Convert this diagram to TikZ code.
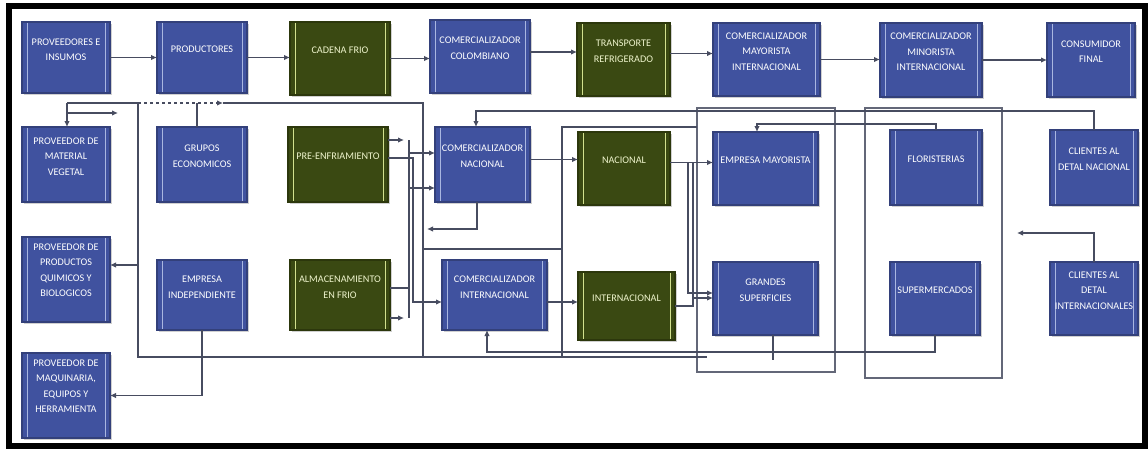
\documentclass[tikz,border=0pt]{standalone}
\usepackage{fontspec}
\setmainfont{Carlito}
\usetikzlibrary{arrows.meta,calc,shadows}
\definecolor{bfill}{HTML}{40529F}
\definecolor{bedge}{HTML}{33407A}
\definecolor{bline}{HTML}{A9B6E0}
\definecolor{gfill}{HTML}{3A4912}
\definecolor{gedge}{HTML}{2C370C}
\definecolor{gline}{HTML}{D2E08E}
\definecolor{gtext}{HTML}{EEF4CC}
\definecolor{wire}{HTML}{474C60}
\tikzset{
  box/.style={inner sep=0pt, outer sep=0pt, line width=1.2pt,
    drop shadow={shadow xshift=1.5pt, shadow yshift=-1.5pt, fill=gray!60, opacity=0.6}},
  bluebox/.style={box, draw=bedge, fill=bfill, path picture={
     \draw[bline, line width=0.7pt]
       ([xshift=5pt]path picture bounding box.north west) -- ([xshift=5pt]path picture bounding box.south west)
       ([xshift=-5pt]path picture bounding box.north east) -- ([xshift=-5pt]path picture bounding box.south east);}},
  greenbox/.style={box, draw=gedge, fill=gfill, path picture={
     \draw[gline, line width=0.7pt]
       ([xshift=5pt]path picture bounding box.north west) -- ([xshift=5pt]path picture bounding box.south west)
       ([xshift=-5pt]path picture bounding box.north east) -- ([xshift=-5pt]path picture bounding box.south east);}},
  btxt/.style={text=white, align=center, font=\fontsize{10.2}{15.5}\selectfont, inner sep=0pt},
  gtxt/.style={btxt, text=gtext},
  wireline/.style={draw=wire, line width=1.1pt},
  arr/.style={wireline, -{Latex[length=6pt,width=5.5pt]}},
  grp/.style={draw=wire!85, line width=1.1pt, inner sep=0pt, outer sep=0pt},
}
\newcommand{\mkbox}[8]{%
  \node[#2, minimum width={#6-#4}, minimum height={#7-#5}] (#1) at ({(#4+#6)/2},{(#5+#7)/2}) {};
  \node[#3] (#1t) at ({(#4+#6)/2},{#5+0.39*(#7-#5)}) {#8};
}
\begin{document}
\begin{tikzpicture}[x=1pt,y=-1pt]
\useasboundingbox (0,0) rectangle (1148,450);
\fill[white] (0,0) rectangle (1148,450);
\draw[line width=6pt] (8.5,6) rectangle (1145,446);

% group frames
\node[grp, minimum width=138, minimum height=264] (g1) at (766,240) {};
\node[grp, minimum width=137, minimum height=270] (g2) at (933.5,243) {};

% row 1
\mkbox{pei}{bluebox}{btxt}{22}{22}{110}{93}{PROVEEDORES E\\INSUMOS}
\mkbox{prod}{bluebox}{btxt}{157}{22}{247}{93}{PRODUCTORES}
\mkbox{cfrio}{greenbox}{gtxt}{290}{22}{390}{95}{CADENA FRIO}
\mkbox{ccol}{bluebox}{btxt}{430}{20}{530}{93}{COMERCIALIZADOR\\COLOMBIANO}
\mkbox{trans}{greenbox}{gtxt}{577}{23}{670}{96}{TRANSPORTE\\REFRIGERADO}
\mkbox{cmay}{bluebox}{btxt}{713}{23}{820}{96}{COMERCIALIZADOR\\MAYORISTA\\INTERNACIONAL}
\mkbox{cmin}{bluebox}{btxt}{880}{23}{982}{97}{COMERCIALIZADOR\\MINORISTA\\INTERNACIONAL}
\mkbox{cons}{bluebox}{btxt}{1047}{23}{1135}{97}{CONSUMIDOR\\FINAL}

% row 2
\mkbox{pmv}{bluebox}{btxt}{22}{127}{110}{202}{PROVEEDOR DE\\MATERIAL\\VEGETAL}
\mkbox{grupos}{bluebox}{btxt}{157}{127}{247}{202}{GRUPOS\\ECONOMICOS}
\mkbox{preenf}{greenbox}{gtxt}{288}{127}{388}{202}{PRE-ENFRIAMIENTO}
\mkbox{cnac}{bluebox}{btxt}{435}{127}{530}{202}{COMERCIALIZADOR\\NACIONAL}
\mkbox{nac}{greenbox}{gtxt}{578}{132}{670}{205}{NACIONAL}
\mkbox{emay}{bluebox}{btxt}{713}{132}{818}{205}{EMPRESA MAYORISTA}
\mkbox{flor}{bluebox}{btxt}{890}{130}{982}{205}{FLORISTERIAS}
\mkbox{cdn}{bluebox}{btxt}{1050}{130}{1138}{205}{CLIENTES AL\\DETAL NACIONAL}

% row 3
\mkbox{pqb}{bluebox}{btxt}{22}{237}{110}{322}{PROVEEDOR DE\\PRODUCTOS\\QUIMICOS Y\\BIOLOGICOS}
\mkbox{einde}{bluebox}{btxt}{157}{260}{247}{330}{EMPRESA\\INDEPENDIENTE}
\mkbox{almac}{greenbox}{gtxt}{290}{260}{390}{330}{ALMACENAMIENTO\\EN FRIO}
\mkbox{cint}{bluebox}{btxt}{442}{260}{547}{330}{COMERCIALIZADOR\\INTERNACIONAL}
\mkbox{intl}{greenbox}{gtxt}{578}{272}{675}{340}{INTERNACIONAL}
\mkbox{gs}{bluebox}{btxt}{713}{262}{818}{335}{GRANDES\\SUPERFICIES}
\mkbox{super}{bluebox}{btxt}{890}{262}{980}{335}{SUPERMERCADOS}
\mkbox{cdi}{bluebox}{btxt}{1050}{262}{1138}{335}{CLIENTES AL\\DETAL\\INTERNACIONALES}

% row 4
\mkbox{pmaq}{bluebox}{btxt}{22}{353}{110}{438}{PROVEEDOR DE\\MAQUINARIA,\\EQUIPOS Y\\HERRAMIENTA}

% row 1 arrows
\draw[arr] (pei.east) -- (pei.east -| prod.west);
\draw[arr] (prod.east) -- (prod.east -| cfrio.west);
\draw[arr] (cfrio.east) -- (cfrio.east -| ccol.west);
\draw[arr] ([yshift=4.5pt]ccol.east) -- ([yshift=4.5pt]ccol.east -| trans.west);
\draw[arr] ([yshift=6pt]trans.east) -- ([yshift=6pt]trans.east -| cmay.west);
\draw[arr] (cmay.east) -- (cmay.east -| cmin.west);
\draw[arr] (cmin.east) -- (cmin.east -| cons.west);

% left network
\coordinate (tl1) at (67,103);
\coordinate (tl2) at (138,103);
\coordinate (tl3) at (223,103);
\coordinate (tl4) at (423,103);
\coordinate (bl) at (138,357);
\coordinate (br) at (707,357);
\coordinate (m4b) at (423,357);
\draw[wireline] (tl1) -- (tl2);
\draw[arr, dashed] (tl2) -- (tl3);
\draw[wireline] (tl3) -- (tl4) -- (m4b);
\draw[arr] (tl1) -- (tl1 |- pmv.north);
\coordinate (sa1) at (67,113);
\coordinate (sa2) at (118,113);
\draw[arr] (sa1) -- (sa2);
\draw[wireline] ([xshift=-5pt]grupos.north) -- ([xshift=-5pt]grupos.north |- tl1);
\draw[wireline] (tl2) -- (bl) -- (br);
\coordinate (qj) at (138,265);
\draw[arr] (qj) -- (qj -| pqb.east);
\draw[arr] (einde.south) |- (pmaq.east);

% middle frame lines
\coordinate (m4m) at (423,249);
\coordinate (c5t) at (562,127);
\coordinate (c5m) at (562,249);
\coordinate (c5b) at (562,357);
\draw[wireline] (m4m) -- (c5m);
\draw[wireline] (g1.west |- c5t) -- (c5t) -- (c5b);

% bus between cold-chain boxes and comercializadores
\coordinate (p1) at (404,140);
\coordinate (p2) at (404,318);
\draw[arr] (preenf.east |- p1) -- (p1);
\draw[arr] (almac.east |- p2) -- (p2);
\coordinate (bt) at (409,140);
\coordinate (bb) at (409,318);
\draw[wireline] (bt) -- (bb);
\coordinate (q1) at (413,158);
\coordinate (q2) at (413,302);
\draw[arr] (preenf.east |- q1) -- (q1) -- (q2) -- (q2 -| cint.west);
\coordinate (r1) at (409,288);
\draw[wireline] (almac.east |- r1) -- (r1);
\coordinate (r2) at (409,153);
\coordinate (r3) at (409,188);
\draw[arr] (r2) -- (r2 -| cnac.west);
\draw[arr] (r3) -- (r3 -| cnac.west);

% comercializador nacional / internacional
\coordinate (cn1) at (476,111);
\draw[arr] (cdn.north) |- (cn1) -- (cn1 |- cnac.north);
\coordinate (cb1) at (477,229);
\coordinate (cb2) at (427,229);
\draw[arr] (cb1 |- cnac.south) -- (cb1) -- (cb2);
\draw[arr] ([yshift=5pt]cnac.east) -- ([yshift=5pt]cnac.east -| nac.west);
\draw[arr] ([yshift=-7pt]cint.east) -- ([yshift=-7pt]cint.east -| intl.west);

% nacional / internacional to retail
\draw[arr] ([yshift=6pt]nac.east) -- ([yshift=6pt]nac.east -| emay.west);
\coordinate (ng1) at (688,162.5);
\coordinate (ng2) at (688,293);
\draw[arr] (ng1) -- (ng2) -- (ng2 -| gs.west);
\coordinate (ig1) at (693,306);
\coordinate (ig2) at (693,298);
\coordinate (ig3) at (693,162.5);
\draw[arr] (intl.east) -- (ig1) -- (ig2) -- (ig2 -| gs.west);
\draw[wireline] (ig2) -- (ig3);

% feedback lines
\coordinate (fl1) at (757,124);
\draw[arr] (flor.north) |- (fl1) -- (fl1 |- emay.north);
\coordinate (sp1) at (487,352);
\draw[arr] (super.south) |- (sp1) -- (sp1 |- cint.south);
\coordinate (gsb) at (773,360);
\draw[wireline] (gsb |- gs.south) -- (gsb);
\coordinate (ci1) at (1017,233);
\draw[arr] (cdi.north) |- (ci1);
\end{tikzpicture}
\end{document}
